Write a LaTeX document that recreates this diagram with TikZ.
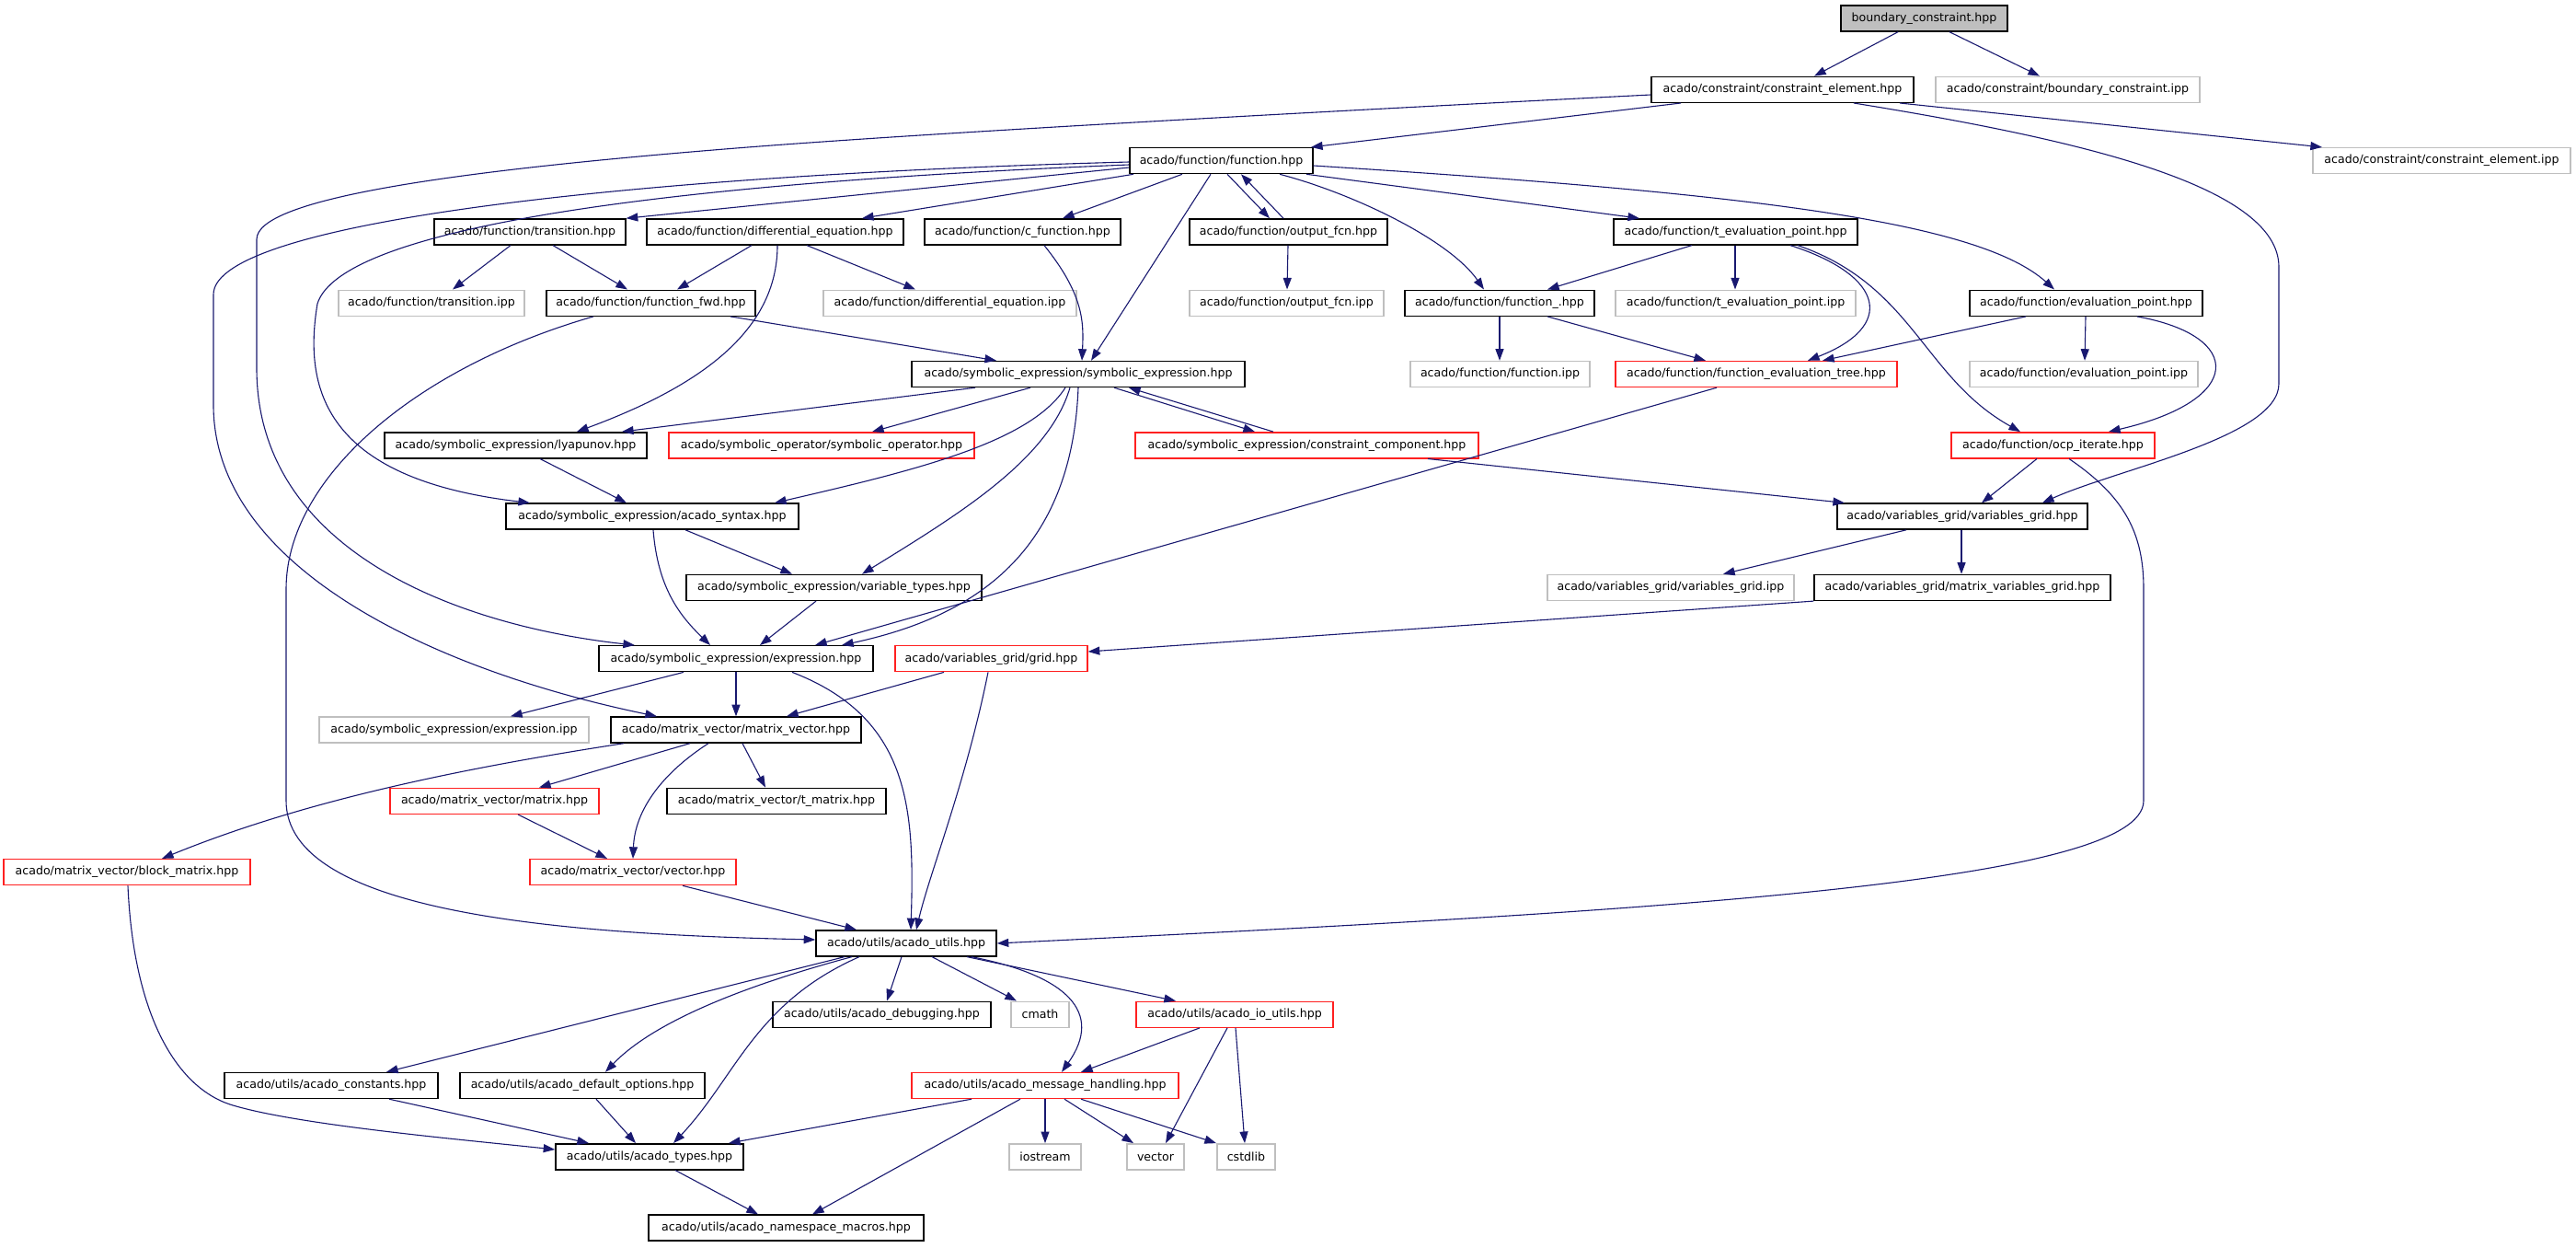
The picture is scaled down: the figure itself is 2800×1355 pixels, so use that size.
\documentclass[tikz,border=0pt]{standalone}
\usepackage{fontspec}
\newfontfamily\dv{DejaVu Sans}
\usetikzlibrary{arrows.meta}
\definecolor{ecol}{HTML}{191970}
\definecolor{gbox}{HTML}{BFBFBF}
\definecolor{rbox}{HTML}{FF2020}
\tikzset{
  nd/.style={draw=black, line width=1.4pt, fill=white, inner sep=0pt, minimum height=28pt,
             font=\dv\fontsize{12.6pt}{15pt}\selectfont, text=black, anchor=center},
  rd/.style={nd, draw=rbox},
  gy/.style={nd, draw=gbox},
  edge/.style={draw=ecol, line width=1.1pt, -{Triangle[length=12.6pt,width=9pt]}, fill=none}
}
\begin{document}
\begin{tikzpicture}[x=1pt,y=-1pt]
\useasboundingbox (0,0) rectangle (2800,1355);
\fill[white] (0,0) rectangle (2800,1355);
% row 0
\node[nd, fill=gbox, minimum width=181pt] (bc) at (2091.5,20) {boundary\_constraint.hpp};
% row 1
\node[nd, minimum width=285pt] (ce) at (1937.5,97.3) {acado/constraint/constraint\_element.hpp};
\node[gy, minimum width=287pt] (bcipp) at (2247.5,97.3) {acado/constraint/boundary\_constraint.ipp};
% row 2
\node[nd, minimum width=199pt] (fn) at (1327.5,174.6) {acado/function/function.hpp};
\node[gy, minimum width=280pt] (ceipp) at (2654,174.6) {acado/constraint/constraint\_element.ipp};
% row 3
\node[nd, minimum width=208pt] (trans) at (576,251.9) {acado/function/transition.hpp};
\node[nd, minimum width=279pt] (diffeq) at (842.5,251.9) {acado/function/differential\_equation.hpp};
\node[nd, minimum width=213pt] (cfn) at (1111.5,251.9) {acado/function/c\_function.hpp};
\node[nd, minimum width=215pt] (ofcn) at (1400.5,251.9) {acado/function/output\_fcn.hpp};
\node[nd, minimum width=265pt] (tep) at (1886.5,251.9) {acado/function/t\_evaluation\_point.hpp};
% row 4
\node[gy, minimum width=202pt] (transipp) at (469,329.2) {acado/function/transition.ipp};
\node[nd, minimum width=227pt] (ffwd) at (707.5,329.2) {acado/function/function\_fwd.hpp};
\node[gy, minimum width=275pt] (diffipp) at (1032.5,329.2) {acado/function/differential\_equation.ipp};
\node[gy, minimum width=211pt] (ofcnipp) at (1398.5,329.2) {acado/function/output\_fcn.ipp};
\node[nd, minimum width=206pt] (fu) at (1630,329.2) {acado/function/function\_.hpp};
\node[gy, minimum width=261pt] (tepipp) at (1886.5,329.2) {acado/function/t\_evaluation\_point.ipp};
\node[nd, minimum width=253pt] (ep) at (2267.5,329.2) {acado/function/evaluation\_point.hpp};
% row 5
\node[nd, minimum width=362pt] (se) at (1172,406.5) {acado/symbolic\_expression/symbolic\_expression.hpp};
\node[gy, minimum width=195pt] (fnipp) at (1630.5,406.5) {acado/function/function.ipp};
\node[rd, minimum width=306pt] (fet) at (1909,406.5) {acado/function/function\_evaluation\_tree.hpp};
\node[gy, minimum width=248pt] (epipp) at (2265,406.5) {acado/function/evaluation\_point.ipp};
% row 6
\node[nd, minimum width=285pt] (lyap) at (560.5,483.8) {acado/symbolic\_expression/lyapunov.hpp};
\node[rd, minimum width=332pt] (symop) at (893,483.8) {acado/symbolic\_operator/symbolic\_operator.hpp};
\node[rd, minimum width=373pt] (cc) at (1420.5,483.8) {acado/symbolic\_expression/constraint\_component.hpp};
\node[rd, minimum width=221pt] (ocp) at (2231.5,483.8) {acado/function/ocp\_iterate.hpp};
% row 7
\node[nd, minimum width=318pt] (syn) at (709,561.1) {acado/symbolic\_expression/acado\_syntax.hpp};
\node[nd, minimum width=272pt] (vg) at (2133,561.1) {acado/variables\_grid/variables\_grid.hpp};
% row 8
\node[nd, minimum width=321pt] (vt) at (906.5,638.4) {acado/symbolic\_expression/variable\_types.hpp};
\node[gy, minimum width=268pt] (vgipp) at (1816,638.4) {acado/variables\_grid/variables\_grid.ipp};
\node[nd, minimum width=322pt] (mvg) at (2133,638.4) {acado/variables\_grid/matrix\_variables\_grid.hpp};
% row 9
\node[nd, minimum width=298pt] (expr) at (800,715.7) {acado/symbolic\_expression/expression.hpp};
\node[rd, minimum width=209pt] (grid) at (1077.5,715.7) {acado/variables\_grid/grid.hpp};
% row 10
\node[gy, minimum width=293pt] (expripp) at (493.5,793) {acado/symbolic\_expression/expression.ipp};
\node[nd, minimum width=272pt] (mv) at (800,793) {acado/matrix\_vector/matrix\_vector.hpp};
% row 11
\node[rd, minimum width=227pt] (mat) at (537.5,870.3) {acado/matrix\_vector/matrix.hpp};
\node[nd, minimum width=238pt] (tmat) at (844,870.3) {acado/matrix\_vector/t\_matrix.hpp};
% row 12
\node[rd, minimum width=268pt] (bm) at (138,947.6) {acado/matrix\_vector/block\_matrix.hpp};
\node[rd, minimum width=224pt] (vec) at (688,947.6) {acado/matrix\_vector/vector.hpp};
% row 13
\node[nd, minimum width=196pt] (utils) at (985,1024.9) {acado/utils/acado\_utils.hpp};
% row 14
\node[nd, minimum width=237pt] (dbg) at (958.5,1102.2) {acado/utils/acado\_debugging.hpp};
\node[gy, minimum width=63pt] (cmath) at (1130.5,1102.2) {cmath};
\node[rd, minimum width=214pt] (io) at (1342,1102.2) {acado/utils/acado\_io\_utils.hpp};
% row 15
\node[nd, minimum width=232pt] (cons) at (360,1179.5) {acado/utils/acado\_constants.hpp};
\node[nd, minimum width=266pt] (defopt) at (633,1179.5) {acado/utils/acado\_default\_options.hpp};
\node[rd, minimum width=290pt] (msg) at (1136,1179.5) {acado/utils/acado\_message\_handling.hpp};
% row 16
\node[nd, minimum width=204pt] (types) at (706,1256.8) {acado/utils/acado\_types.hpp};
\node[gy, minimum width=78pt] (iostream) at (1136,1256.8) {iostream};
\node[gy, minimum width=62pt] (vector) at (1256,1256.8) {vector};
\node[gy, minimum width=63pt] (cstdlib) at (1354.5,1256.8) {cstdlib};
% row 17
\node[nd, minimum width=299pt] (ns) at (854.5,1334.1) {acado/utils/acado\_namespace\_macros.hpp};

% ---------------- edges
\draw[edge] (2063,0 |- bc.south) -- (1972,0 |- ce.north);
\draw[edge] (2119,0 |- bc.south) -- (2217,0 |- bcipp.north);
\draw[edge] (1827,0 |- ce.south) -- (1425,0 |- fn.north);
\draw[edge] (2065,0 |- ce.south) -- (2524,0 |- ceipp.north);
\draw[edge] (2015,0 |- ce.south) .. controls (2250,150) and (2477,200) .. (2477,290) -- (2477,417) .. controls (2477,475) and (2300,510) .. (2220,0 |- vg.north);
\draw[edge] (ce.west |- 0,103) .. controls (1400,123) and (1000,145) .. (800,161) .. controls (500,185) and (279,215) .. (279,260) -- (279,400) .. controls (279,600) and (500,680) .. (690,0 |- expr.north);
% function.hpp
\draw[edge] (fn.west |- 0,182) -- (trans.north east);
\draw[edge] (1232,0 |- fn.south) -- (937,0 |- diffeq.north);
\draw[edge] (1285,0 |- fn.south) -- (1155,0 |- cfn.north);
\draw[edge] (1334,0 |- fn.south) -- (1380,0 |- ofcn.north);
\draw[edge] (1395,0 |- ofcn.north) -- (1349,0 |- fn.south);
\draw[edge] (1420,0 |- fn.south) -- (1782,0 |- tep.north);
\draw[edge] (1391,0 |- fn.south) .. controls (1470,210) and (1575,260) .. (1613,0 |- fu.north);
\draw[edge] (fn.east |- 0,180) .. controls (1900,210) and (2150,240) .. (2233,0 |- ep.north);
\draw[edge] (1316,0 |- fn.south) -- (1186,0 |- se.north);
\draw[edge] (fn.west |- 0,179) .. controls (700,200) and (370,250) .. (345,330) .. controls (330,420) and (350,520) .. (576,0 |- syn.north);
\draw[edge] (fn.west |- 0,176) .. controls (700,190) and (232,240) .. (232,320) -- (232,440) .. controls (232,620) and (480,730) .. (714,0 |- mv.north);
% transition / differential equation
\draw[edge] (555,0 |- trans.south) -- (492,0 |- transipp.north);
\draw[edge] (601,0 |- trans.south) -- (682,0 |- ffwd.north);
\draw[edge] (817,0 |- diffeq.south) -- (736,0 |- ffwd.north);
\draw[edge] (877,0 |- diffeq.south) -- (995,0 |- diffipp.north);
\draw[edge] (845,0 |- diffeq.south) .. controls (845,360) and (760,420) .. (627,0 |- lyap.north);
% function_fwd
\draw[edge] (794,0 |- ffwd.south) -- (1083,0 |- se.north);
\draw[edge] (645,0 |- ffwd.south) .. controls (450,400) and (311,520) .. (311,640) -- (311,870) .. controls (311,990) and (600,1015) .. (utils.west |- 0,1021);
% c_function, output_fcn
\draw[edge] (1135,0 |- cfn.south) .. controls (1178,320) and (1178,350) .. (1176,0 |- se.north);
\draw[edge] (1400,0 |- ofcn.south) -- (1399,0 |- ofcnipp.north);
% t_evaluation_point
\draw[edge] (1839,0 |- tep.south) -- (1682,0 |- fu.north);
\draw[edge] (1886,0 |- tep.south) -- (1886,0 |- tepipp.north);
\draw[edge] (1946,0 |- tep.south) .. controls (2050,300) and (2060,355) .. (1965,0 |- fet.north);
\draw[edge] (1954,0 |- tep.south) .. controls (2080,310) and (2090,410) .. (2196,0 |- ocp.north);
% function_
\draw[edge] (1630,0 |- fu.south) -- (1630,0 |- fnipp.north);
\draw[edge] (1682,0 |- fu.south) -- (1854,0 |- fet.north);
% evaluation_point
\draw[edge] (2202,0 |- ep.south) -- (1981,0 |- fet.north);
\draw[edge] (2267,0 |- ep.south) -- (2266,0 |- epipp.north);
\draw[edge] (2323,0 |- ep.south) .. controls (2440,365) and (2440,435) .. (2292,0 |- ocp.north);
% symbolic_expression
\draw[edge] (1060,0 |- se.south) -- (676,0 |- lyap.north);
\draw[edge] (1120,0 |- se.south) -- (948,0 |- symop.north);
\draw[edge] (1211,0 |- se.south) -- (1364,0 |- cc.north);
\draw[edge] (1384,0 |- cc.north) -- (1227,0 |- se.south);
\draw[edge] (1158,0 |- se.south) .. controls (1120,480) and (1000,510) .. (842,0 |- syn.north);
\draw[edge] (1163,0 |- se.south) .. controls (1140,500) and (1040,560) .. (937,0 |- vt.north);
\draw[edge] (1172,0 |- se.south) .. controls (1165,600) and (1060,670) .. (915,0 |- expr.north);
% function_evaluation_tree
\draw[edge] (1866,0 |- fet.south) -- (886,0 |- expr.north);
% acado_syntax, lyapunov, variable_types
\draw[edge] (710,0 |- syn.south) .. controls (715,640) and (740,670) .. (772,0 |- expr.north);
\draw[edge] (745,0 |- syn.south) -- (861,0 |- vt.north);
\draw[edge] (587,0 |- lyap.south) -- (681,0 |- syn.north);
\draw[edge] (887,0 |- vt.south) -- (826,0 |- expr.north);
% constraint_component, ocp_iterate
\draw[edge] (1552,0 |- cc.south) -- (2005,0 |- vg.north);
\draw[edge] (2214,0 |- ocp.south) -- (2154,0 |- vg.north);
\draw[edge] (2249,0 |- ocp.south) .. controls (2310,540) and (2330,580) .. (2330,640) -- (2330,870) .. controls (2330,960) and (1800,990) .. (utils.east |- 0,1025);
% variables_grid
\draw[edge] (2072,0 |- vg.south) -- (1873,0 |- vgipp.north);
\draw[edge] (2132,0 |- vg.south) -- (2132,0 |- mvg.north);
\draw[edge] (mvg.south west) -- (grid.east |- 0,708);
% grid
\draw[edge] (1026,0 |- grid.south) -- (855,0 |- mv.north);
\draw[edge] (1074,0 |- grid.south) .. controls (1050,850) and (1010,950) .. (996,0 |- utils.north);
% expression
\draw[edge] (743,0 |- expr.south) -- (555,0 |- expripp.north);
\draw[edge] (800,0 |- expr.south) -- (800,0 |- mv.north);
\draw[edge] (861,0 |- expr.south) .. controls (990,780) and (994,880) .. (990,0 |- utils.north);
% matrix_vector
\draw[edge] (678,0 |- mv.south) .. controls (500,835) and (330,870) .. (176,0 |- bm.north);
\draw[edge] (750,0 |- mv.south) -- (586,0 |- mat.north);
\draw[edge] (770,0 |- mv.south) .. controls (720,840) and (690,880) .. (688,0 |- vec.north);
\draw[edge] (807,0 |- mv.south) -- (832,0 |- tmat.north);
\draw[edge] (563,0 |- mat.south) -- (660,0 |- vec.north);
\draw[edge] (742,0 |- vec.south) -- (931,0 |- utils.north);
\draw[edge] (139,0 |- bm.south) .. controls (145,1100) and (190,1180) .. (250,1200) .. controls (320,1222) and (500,1238) .. (types.west |- 0,1249);
% acado_utils
\draw[edge] (918,0 |- utils.south) -- (420,0 |- cons.north);
\draw[edge] (926,0 |- utils.south) .. controls (850,1060) and (720,1100) .. (658,0 |- defopt.north);
\draw[edge] (934,0 |- utils.south) .. controls (820,1090) and (800,1170) .. (732,0 |- types.north);
\draw[edge] (980,0 |- utils.south) -- (964,0 |- dbg.north);
\draw[edge] (1013,0 |- utils.south) -- (1105,0 |- cmath.north);
\draw[edge] (1051,0 |- utils.south) -- (1278,0 |- io.north);
\draw[edge] (1056,0 |- utils.south) .. controls (1160,1060) and (1200,1100) .. (1154,0 |- msg.north);
% io_utils
\draw[edge] (1304,0 |- io.south) -- (1175,0 |- msg.north);
\draw[edge] (1334,0 |- io.south) -- (1267,0 |- vector.north);
\draw[edge] (1343,0 |- io.south) -- (1353,0 |- cstdlib.north);
% message_handling
\draw[edge] (1136,0 |- msg.south) -- (1136,0 |- iostream.north);
\draw[edge] (1157,0 |- msg.south) -- (1232,0 |- vector.north);
\draw[edge] (1175,0 |- msg.south) -- (1322,0 |- cstdlib.north);
\draw[edge] (1109,0 |- msg.south) -- (883,0 |- ns.north);
\draw[edge] (1056,0 |- msg.south) -- (792,0 |- types.north);
% constants, default options, types
\draw[edge] (423,0 |- cons.south) -- (640,0 |- types.north);
\draw[edge] (648,0 |- defopt.south) -- (691,0 |- types.north);
\draw[edge] (734,0 |- types.south) -- (824,0 |- ns.north);
\end{tikzpicture}
\end{document}
